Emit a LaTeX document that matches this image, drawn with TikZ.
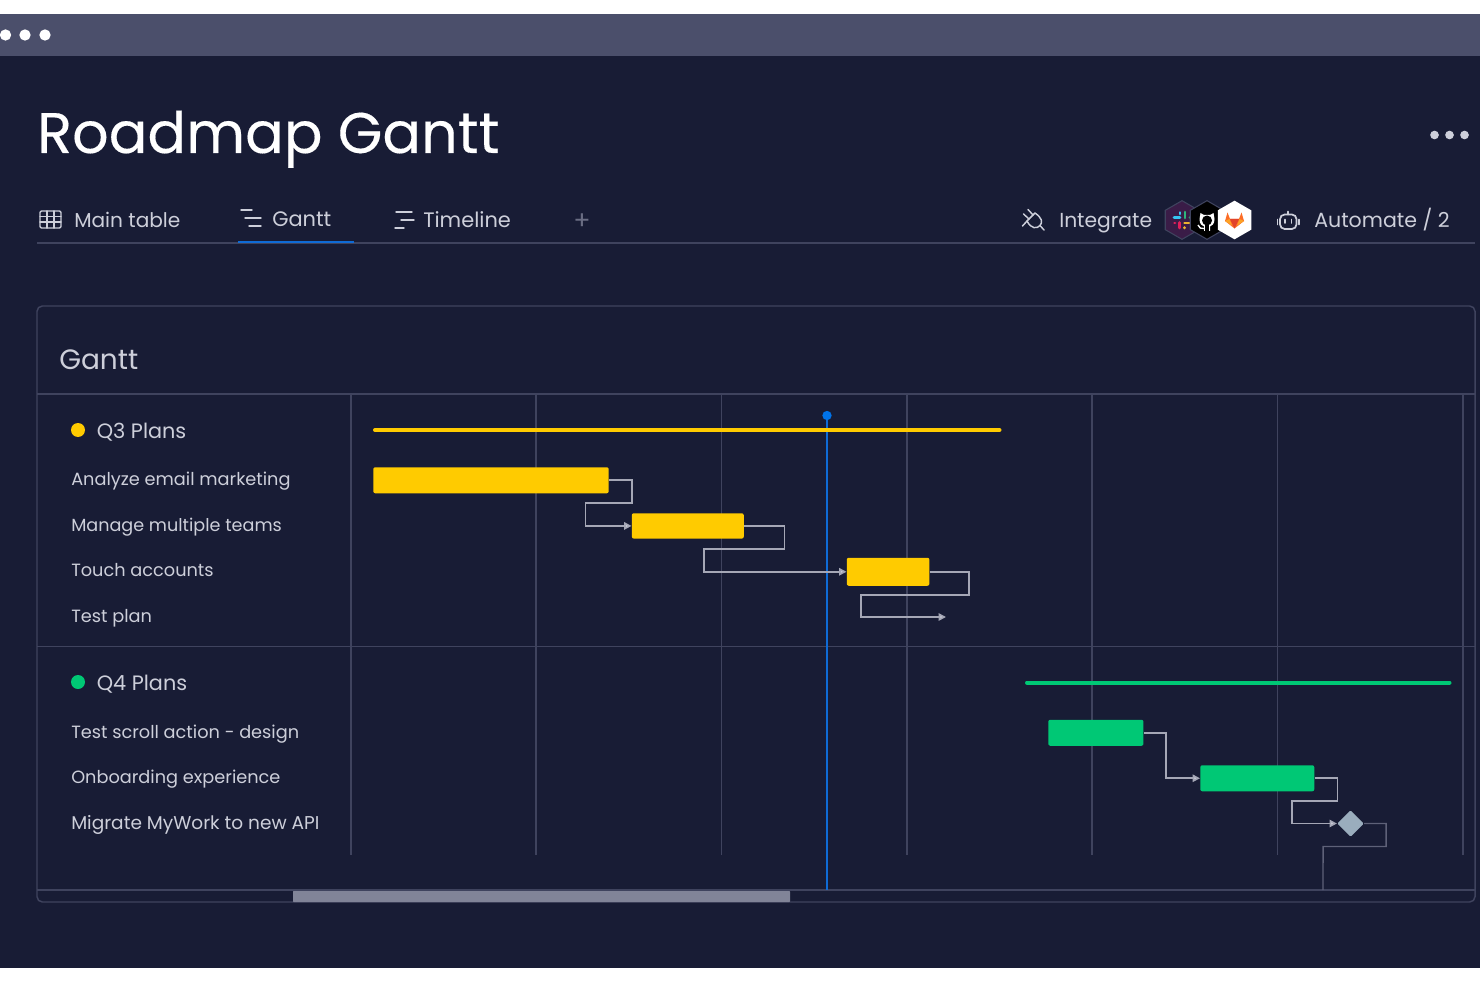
\documentclass[tikz,border=0pt]{standalone}
\usepackage{fontspec}
\setmainfont{Poppins}
\newfontfamily\titlefont[FakeBold=0.25]{Poppins}
\usetikzlibrary{arrows.meta,shapes.geometric}
\definecolor{bgc}{HTML}{181C35}
\definecolor{barc}{HTML}{4B4F6B}
\definecolor{linec}{HTML}{3F435E}
\definecolor{txtc}{HTML}{CDCFDA}
\definecolor{conc}{HTML}{A5A7B6}
\definecolor{yel}{HTML}{FFCB00}
\definecolor{grn}{HTML}{00C875}
\definecolor{blu}{HTML}{0F6BD6}
\definecolor{dia}{HTML}{9AADBD}
\definecolor{slackhex}{HTML}{3A1C47}
\definecolor{slR}{HTML}{E01E5A}
\definecolor{slB}{HTML}{36C5F0}
\definecolor{slG}{HTML}{2EB67D}
\definecolor{slY}{HTML}{ECB22E}
\definecolor{glA}{HTML}{E24329}
\definecolor{glB}{HTML}{FC6D26}
\definecolor{glC}{HTML}{FCA326}
\definecolor{nowdot}{HTML}{0073EA}
\tikzset{
  x=0.75pt,y=-0.75pt,
  lab/.style={anchor=base west,inner sep=0pt,text=txtc,font=\fontsize{#1}{16}\selectfont},
  lab/.default=13.3,
  tab/.style={anchor=base west,inner sep=0pt,text=txtc,font=\fontsize{#1}{18}\selectfont},
  tab/.default=15.4,
  taskbar/.style={fill=#1,draw=none,rounded corners=1.5pt,inner sep=0pt,anchor=north west},
  con/.style={draw=conc,line width=1.2pt,-{Triangle[length=5.5pt,width=5.5pt,fill=txtc]}},
  gridl/.style={draw=linec,line width=0.85pt},
  ico/.style={draw=txtc,line width=1.1pt,line cap=round},
  dot/.style={circle,fill=#1,draw=none,inner sep=0pt},
  hex/.style={regular polygon,regular polygon sides=6,rotate=30,minimum size=29pt,inner sep=0pt},
  sl/.style={draw=#1,line width=2pt,line cap=round},
}
\begin{document}
\begin{tikzpicture}
\useasboundingbox (0,0) rectangle (1480,987);
\fill[white] (0,0) rectangle (1480,987);
\fill[bgc] (0,14) rectangle (1480,968);
\fill[barc] (0,14) rectangle (1480,56);
\foreach \n/\x in {a/5.5,b/25,c/45}
  \node[dot=white,minimum size=8.5pt] (win\n) at (\x,35) {};
\node[anchor=base west,inner sep=0pt,text=white,font=\titlefont\fontsize{42.95}{50}\selectfont] (title) at (37,153) {Roadmap Gantt};
\foreach \n/\x in {a/1434.5,b/1449.5,c/1464.5}
  \node[dot=txtc,minimum size=6.5pt] (more\n) at (\x,135) {};
% tabs
\node[tab=15.1] (tmain) at (74,228) {Main table};
\node[tab=15.7] (tgantt) at (272,227) {Gantt};
\node[tab=15.7] (ttime) at (423,228) {Timeline};
\node[anchor=center,inner sep=0pt,text=linec!70!txtc,font=\fontsize{19}{20}\selectfont] (tplus) at (582,222) {+};
\node[tab=15.2] (tint) at (1059,228) {Integrate};
\node[tab=15.4] (taut) at (1314,228) {Automate / 2};
\draw[draw=linec,line width=1.2pt] (37,243) -- (1475,243);
\draw[draw=blu,line width=2.2pt] (238,242) -- (354,242);
% tab icons
\draw[ico,rounded corners=1pt] (40,211) rectangle (61,228);
\draw[ico] (40,216.5)--(61,216.5) (40,222)--(61,222) (47,211)--(47,228) (54,211)--(54,228);
\draw[ico] (241,210)--(252,210) (245,218)--(261,218) (249,226)--(261,226);
\draw[ico] (396,212)--(412,212) (401,220)--(414,220) (395,228)--(404,228);
% plug icon
\draw[ico,line join=round] (1035,213) -- (1027,221) .. controls (1031,229) and (1037,229) .. (1040,225.5) .. controls (1043,222) and (1042,218) .. (1035,213);
\draw[ico] (1033,215)--(1028,209.5) (1029,219)--(1023.5,214) (1027,221)--(1022.5,226) (1040,225.5)--(1044,230);
% hexes
\node[hex,fill=slackhex,draw=linec,line width=0.8pt] (hexa) at (1182,220) {};
\draw[sl=slB] (1174,217.5)--(1180,217.5) (1180,212.5)--(1180,214);
\draw[sl=slG] (1185,212)--(1185,218) (1190,217.5)--(1190.5,217.5);
\draw[sl=slY] (1184.5,223)--(1190.5,223) (1184.5,227.5)--(1184.5,228);
\draw[sl=slR] (1179.5,222.5)--(1179.5,228) (1174.5,223)--(1175,223);
\node[hex,fill=black,draw=linec,line width=0.8pt] (hexb) at (1207,220) {};
\fill[white] (1200.5,213) -- (1204,215) -- (1210,215) -- (1213.5,213) -- (1214.5,219)
  .. controls (1214.5,224) and (1212,226) .. (1210,226.5) -- (1210,231) -- (1204,231) -- (1204,226.5)
  .. controls (1202,226) and (1199.5,224) .. (1199.5,219) -- cycle;
\node[circle,fill=black,inner sep=0pt,minimum size=7.5pt] (ghubi) at (1207,220.5) {};
\fill[black] (1205,224) rectangle (1209,232);
\draw[white,line width=1pt] (1198,225) .. controls (1199,228) and (1201,229) .. (1204,228.5);
\node[hex,fill=white,draw=none] (hexc) at (1234.5,220) {};
\fill[glB] (1234.5,228.5) -- (1225,221) -- (1227.5,212.5) -- (1230,219) -- (1239,219) -- (1241.5,212.5) -- (1244,221) -- cycle;
\fill[glC] (1225,221) -- (1229.5,219) -- (1232,225.5) -- cycle;
\fill[glC] (1244,221) -- (1239.5,219) -- (1237,225.5) -- cycle;
\fill[glA] (1234.5,228.5) -- (1230,219) -- (1239,219) -- cycle;
% robot icon
\draw[ico,line width=1.3pt,rounded corners=3.5pt] (1280,214.5) rectangle (1296.5,229);
\draw[ico,line width=1.4pt] (1288,214.5)--(1288,211.5) (1277.5,219.5)--(1277.5,224.5) (1299,219.5)--(1299,224.5) (1285,219.5)--(1285,223) (1291.5,219.5)--(1291.5,223);
% panel
\draw[draw=linec,line width=1.1pt,rounded corners=4pt] (37,306) rectangle (1475,902);
\node[anchor=base west,inner sep=0pt,text=txtc,font=\fontsize{21}{24}\selectfont] (ptitle) at (59,369) {Gantt};
\draw[gridl] (37,394)--(1475,394) (37,646.5)--(1475,646.5) (37,890)--(1475,890);
\foreach \x in {351,536,721.5,907,1092,1277.5,1463}
  \draw[gridl] (\x,394)--(\x,855);
\fill[conc!60!barc,rounded corners=0.5pt] (293,891) rectangle (790,902);
% labels
\node[dot=yel,minimum size=10.5pt] (dq3) at (78,430) {};
\node[lab=15.6] (q3) at (96.5,438) {Q3 Plans};
\node[lab] (l1) at (71,485.5) {Analyze email marketing};
\node[lab=13.2] (l2) at (71,531.5) {Manage multiple teams};
\node[lab] (l3) at (71,576.5) {Touch accounts};
\node[lab] (l4) at (71,622.5) {Test plan};
\node[dot=grn,minimum size=10.5pt] (dq4) at (78,682) {};
\node[lab=15.6] (q4) at (96.5,690) {Q4 Plans};
\node[lab] (l5) at (71,738) {Test scroll action - design};
\node[lab] (l6) at (71,783.5) {Onboarding experience};
\node[lab=13.9] (l7) at (71,829) {Migrate MyWork to new API};
% today
\node[dot=nowdot,minimum size=7pt] (now) at (827,415.5) {};
\coordinate (nowend) at (827,890);
\draw[draw=blu,line width=1.6pt] (now) -- (nowend);
% summaries
\draw[yel,line width=3pt,line cap=round] (375,430)--(999.5,430);
\draw[grn,line width=3pt,line cap=round] (1027,682.5)--(1449.5,682.5);
% bars
\node[taskbar=yel,minimum width=176.6pt,minimum height=19.5pt] (b1) at (373,467) {};
\node[taskbar=yel,minimum width=84pt,minimum height=19pt] (b2) at (631.5,513) {};
\node[taskbar=yel,minimum width=62pt,minimum height=21pt] (b3) at (846.5,557.5) {};
\node[taskbar=grn,minimum width=71.4pt,minimum height=19.5pt] (g1) at (1048,719.5) {};
\node[taskbar=grn,minimum width=85.5pt,minimum height=19.5pt] (g2) at (1200,765) {};
\node[diamond,aspect=1,fill=dia,draw=none,inner sep=0pt,minimum size=20pt,rounded corners=1pt] (ms) at (1350.5,823.5) {};
\coordinate (e3) at (946,617);
\coordinate (e4) at (1323,890);
% connectors
\draw[con] (b1.east) -- ++(23,0) -- ++(0,22.5) -- ++(-46.5,0) |- (b2.west);
\draw[con] (b2.east) -- ++(40.5,0) -- ++(0,23) -- ++(-80.5,0) |- (b3.west);
\draw[con] (b3.east) -- ++(39.5,0) -- ++(0,23) -- ++(-108.5,0) |- (e3);
\draw[con] (g1.east) -- ++(22.5,0) |- (g2.west);
\draw[con] (g2.east) -- ++(23,0) -- ++(0,23) -- ++(-45.5,0) |- (ms.west);
\draw[draw=linec!70!conc,line width=1pt] (ms.east) -- ++(22,0) -- ++(0,23) -- ++(-63,0) -- (e4);
\end{tikzpicture}
\end{document}
